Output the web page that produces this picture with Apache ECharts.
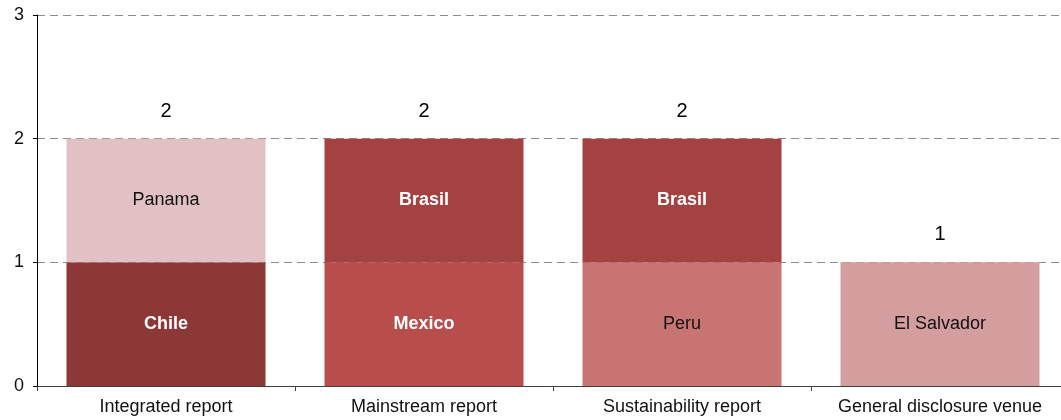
<!DOCTYPE html>
<html>
<head>
<meta charset="utf-8">
<script src="https://cdn.jsdelivr.net/npm/echarts@6/dist/echarts.min.js"></script>
<style>
  html, body { margin: 0; padding: 0; background: #fff; }
  #chart { width: 1061px; height: 420px; }
</style>
</head>
<body>
<div id="chart"></div>
<script>
const categories = ["Integrated report", "Mainstream report", "Sustainability report", "General disclosure venue"];
const bottomCountries = ["Chile", "Mexico", "Peru", "El Salvador"];
const bottomValues = [1, 1, 1, 1];
const topCountries = ["Panama", "Brasil", "Brasil", ""];
const topValues = [1, 1, 1, 0];
const totals = [2, 2, 2, 1];
const yTicks = [0, 1, 2, 3];

// colour and text style per country
const countryStyle = {
  "Chile": { color: "#8B3837", text: "#fff", bold: true },
  "Mexico": { color: "#B84E4C", text: "#fff", bold: true },
  "Brasil": { color: "#A34241", text: "#fff", bold: true },
  "Panama": { color: "#E1C1C3", text: "#111", bold: false },
  "Peru": { color: "#C87472", text: "#111", bold: false },
  "El Salvador": { color: "#D59E9E", text: "#111", bold: false }
};

const font = "Liberation Sans, Arial, sans-serif";

const segment = (names, values) => values.map((v, i) => {
  const s = countryStyle[names[i]];
  if (!s) return { value: v, label: { show: false } };
  return {
    value: v,
    name: names[i],
    itemStyle: { color: s.color },
    label: { color: s.text, fontWeight: s.bold ? "bold" : "normal" }
  };
});

const chart = echarts.init(document.getElementById("chart"));

chart.setOption({
  animation: false,
  grid: { left: 37, top: 15, width: 1032, height: 371, outerBoundsMode: "none", containLabel: false },
  xAxis: {
    type: "category",
    data: categories,
    axisLine: { lineStyle: { color: "#404040", width: 1 } },
    axisTick: { show: true, length: 5, lineStyle: { color: "#404040" } },
    axisLabel: { color: "#111", fontSize: 18, fontFamily: font, margin: 12, interval: 0 }
  },
  yAxis: {
    type: "value",
    min: yTicks[0],
    max: yTicks[yTicks.length - 1],
    interval: 1,
    axisLine: { show: true, lineStyle: { color: "#000", width: 1 } },
    axisTick: { show: true, length: 4, lineStyle: { color: "#000" } },
    axisLabel: { color: "#111", fontSize: 18, fontFamily: font, margin: 13 },
    splitLine: {
      lineStyle: { type: [8, 5], color: "#8C8C8C", width: 1 }
    }
  },
  series: [
    {
      type: "bar",
      stack: "total",
      barWidth: 199,
      data: segment(bottomCountries, bottomValues),
      label: { show: true, position: "inside", formatter: "{b}", fontSize: 18, fontFamily: font }
    },
    {
      type: "bar",
      stack: "total",
      barWidth: 199,
      data: segment(topCountries, topValues),
      label: { show: true, position: "inside", formatter: (p) => p.value ? p.name : "", fontSize: 18, fontFamily: font }
    },
    {
      type: "scatter",
      data: totals,
      symbolSize: 1,
      itemStyle: { color: "rgba(0,0,0,0)", opacity: 1 },
      label: { show: true, position: "top", distance: 17, color: "#000", opacity: 1, fontSize: 20, fontFamily: font },
      z: 5
    }
  ]
});
</script>
</body>
</html>
